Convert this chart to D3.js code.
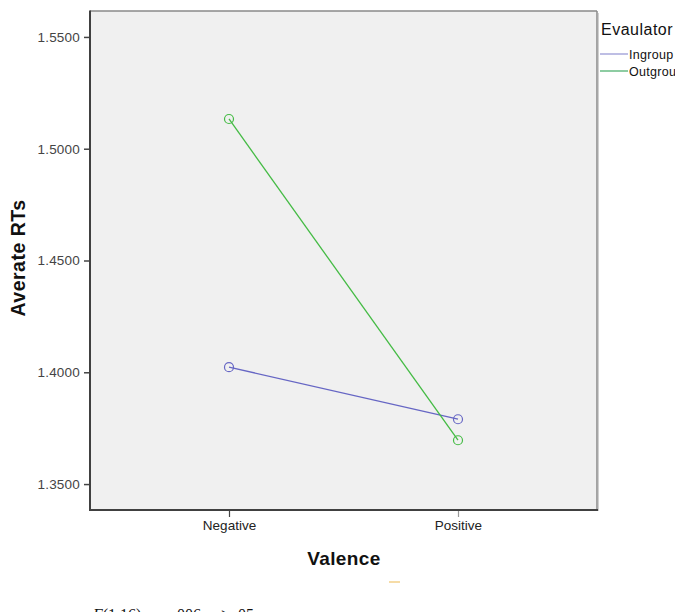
<!DOCTYPE html>
<html><head><meta charset="utf-8">
<script src="https://cdn.jsdelivr.net/npm/d3@7"></script>
<style>body{margin:0;background:#fff;overflow:hidden}svg{display:block}</style>
</head><body>
<svg id="c" width="675" height="612"></svg>
<script>
const categories = ["Negative", "Positive"];
const seriesNames = ["Ingroup", "Outgroup"];
const ingroup = [1.4023, 1.3790];
const outgroup = [1.5133, 1.3696];
const yTicks = [1.35, 1.40, 1.45, 1.50, 1.55];

const svg = d3.select("#c");
const L = 90, R = 597, T = 11, B = 510;
const x = d3.scalePoint().domain(categories).range([L, R]).padding(0.607);
const y = d3.scaleLinear().domain([1.3384, 1.5616]).range([B, T]);

svg.append("rect").attr("x", L).attr("y", T).attr("width", R - L).attr("height", B - T).attr("fill", "#f0f0f0");
svg.append("line").attr("x1", L).attr("x2", R).attr("y1", T).attr("y2", T).attr("stroke", "#8a8a8a").attr("stroke-width", 1.5);
svg.append("line").attr("x1", R).attr("x2", R).attr("y1", T).attr("y2", B).attr("stroke", "#8a8a8a").attr("stroke-width", 1.5);
svg.append("line").attr("x1", R + 1.5).attr("x2", R + 1.5).attr("y1", T + 2).attr("y2", B + 1).attr("stroke", "#d0d0d0").attr("stroke-width", 1);

const font = "Arial, 'Liberation Sans', sans-serif";
const ya = svg.append("g").attr("transform", `translate(${L},0)`)
  .call(d3.axisLeft(y).tickValues(yTicks).tickFormat(d3.format(".4f")).tickSize(6).tickPadding(4));
ya.select(".domain").remove();
ya.selectAll(".tick line").attr("stroke", "#444").attr("stroke-width", 1.5);
ya.selectAll(".tick text").attr("font-family", font).attr("font-size", 13.5).attr("letter-spacing", 0.2).attr("fill", "#444");
svg.append("line").attr("x1", L).attr("x2", L).attr("y1", T - 0.5).attr("y2", B + 1).attr("stroke", "#404040").attr("stroke-width", 2);

const xa = svg.append("g").attr("transform", `translate(0,${B})`)
  .call(d3.axisBottom(x).tickSize(7).tickPadding(3));
xa.select(".domain").remove();
xa.selectAll(".tick line").attr("stroke", (d, i) => i === 0 ? "#444" : "#999").attr("stroke-width", 1.2);
xa.selectAll(".tick text").attr("font-family", font).attr("font-size", 13.5).attr("fill", "#222");
svg.append("line").attr("x1", L - 1).attr("x2", R + 1).attr("y1", B).attr("y2", B).attr("stroke", "#404040").attr("stroke-width", 2);

svg.append("text").attr("transform", `translate(25,258) rotate(-90)`).attr("text-anchor", "middle")
  .attr("font-family", font).attr("font-weight", "bold").attr("font-size", 19.5).attr("letter-spacing", 0.5).attr("fill", "#111").text("Averate RTs");
svg.append("text").attr("x", 344).attr("y", 565).attr("text-anchor", "middle")
  .attr("font-family", font).attr("font-weight", "bold").attr("font-size", 19).attr("letter-spacing", 0.4).attr("fill", "#111").text("Valence");

const colors = ["#6666c4", "#44bb44"];
const data = [ingroup, outgroup];
const line = d3.line().x((d, i) => x(categories[i])).y(d => y(d));
data.forEach((vals, si) => {
  svg.append("path").datum(vals).attr("d", line).attr("fill", "none").attr("stroke", colors[si]).attr("stroke-width", 1.3);
  svg.selectAll(null).data(vals).enter().append("circle")
    .attr("cx", (d, i) => x(categories[i])).attr("cy", d => y(d)).attr("r", 4.5)
    .attr("fill", "none").attr("stroke", colors[si]).attr("stroke-width", 1.2);
});

svg.append("text").attr("x", 601).attr("y", 35).attr("font-family", font).attr("font-size", 16).attr("letter-spacing", 0.5).attr("fill", "#111").text("Evaulator");
const legColors = ["#9b9bd6", "#4fb070"];
seriesNames.forEach((n, i) => {
  const yy = 54 + i * 17;
  svg.append("line").attr("x1", 600).attr("x2", 628).attr("y1", yy).attr("y2", yy).attr("stroke", legColors[i]).attr("stroke-width", 1.3);
  svg.append("text").attr("x", 629).attr("y", yy + 5).attr("font-family", font).attr("font-size", 12.5).attr("letter-spacing", 0.3).attr("fill", "#111").text(n);
});

svg.append("line").attr("x1", 389).attr("x2", 400).attr("y1", 582).attr("y2", 582).attr("stroke", "#f3d08a").attr("stroke-width", 1.5);
const cap = svg.append("text").attr("y", 620).attr("font-family", "'Liberation Serif', 'DejaVu Serif', serif").attr("font-size", 16).attr("fill", "#111");
cap.append("tspan").attr("x", 93).attr("font-style", "italic").text("F");
cap.append("tspan").text("(1,16) = ");
cap.append("tspan").attr("x", 173).text(".006, ");
cap.append("tspan").attr("font-style", "italic").text("p");
cap.append("tspan").text(" > .05");
</script>
</body></html>
